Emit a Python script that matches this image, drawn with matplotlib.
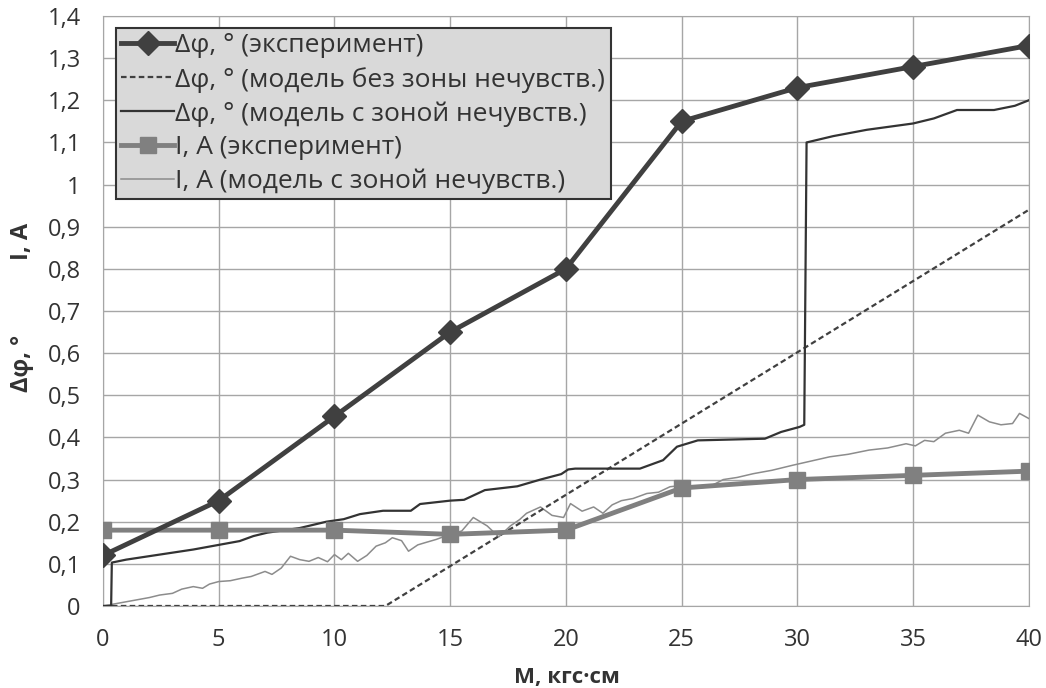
import matplotlib
matplotlib.use("Agg")
import matplotlib.pyplot as plt

# experiment points
m_exp = [0, 5, 10, 15, 20, 25, 30, 35, 40]
phi_exp = [0.12, 0.25, 0.45, 0.65, 0.80, 1.15, 1.23, 1.28, 1.33]
i_exp = [0.18, 0.18, 0.18, 0.17, 0.18, 0.28, 0.30, 0.31, 0.32]

# model without dead zone
m_nodz = [0, 12.2, 40]
phi_nodz = [0, 0, 0.94]

# model with dead zone (phi)
m_dz = [0, 0.35, 0.38, 1.0, 2.45, 3.9, 5.0, 5.9, 6.5, 7.1, 8.5, 9.65, 10.4, 11.1,
        12.1, 13.3, 13.7, 15.0, 15.6, 16.5, 17.9, 18.9, 19.8, 20.1, 20.4, 23.2,
        24.2, 24.8, 25.7, 28.6, 29.3, 30.1, 30.3, 30.4, 31.55, 33.0, 35.0, 35.9,
        36.9, 38.5, 39.4, 40.0]
phi_dz = [0, 0, 0.103, 0.11, 0.122, 0.134, 0.145, 0.154, 0.166, 0.174, 0.185, 0.2,
          0.206, 0.218, 0.226, 0.226, 0.242, 0.25, 0.252, 0.275, 0.284, 0.30, 0.313,
          0.324, 0.326, 0.326, 0.346, 0.378, 0.393, 0.397, 0.413, 0.425, 0.43, 1.10,
          1.115, 1.13, 1.145, 1.157, 1.177, 1.177, 1.187, 1.20]

# model with dead zone (current), read point by point
m_im = [0, 0.5, 1.0, 1.5, 2.0, 2.45, 3.0, 3.4, 3.9, 4.3, 4.6, 5.0, 5.5, 6.0, 6.4,
        7.0, 7.3, 7.7, 8.1, 8.5, 8.9, 9.3, 9.7, 10.0, 10.3, 10.6, 11.0, 11.4, 11.8,
        12.2, 12.5, 12.9, 13.2, 13.6, 13.9, 14.4, 15.0, 15.5, 16.0, 16.6, 17.1,
        17.6, 18.0, 18.3, 18.9, 19.4, 19.9, 20.2, 20.7, 21.2, 21.6, 22.0, 22.4,
        22.9, 23.5, 24.0, 24.5, 25.2, 25.7, 26.2, 26.8, 27.4, 28.1, 28.9, 29.8,
        30.6, 31.4, 32.2, 33.1, 33.9, 34.7, 35.1, 35.5, 35.9, 36.4, 37.0, 37.4,
        37.8, 38.3, 38.8, 39.3, 39.6, 40.0]
i_im = [0, 0.005, 0.01, 0.015, 0.02, 0.026, 0.03, 0.04, 0.046, 0.042, 0.052, 0.058,
        0.06, 0.066, 0.07, 0.082, 0.075, 0.09, 0.118, 0.11, 0.106, 0.115, 0.105,
        0.122, 0.11, 0.125, 0.106, 0.12, 0.142, 0.15, 0.162, 0.155, 0.13, 0.145,
        0.15, 0.158, 0.17, 0.178, 0.21, 0.19, 0.164, 0.19, 0.205, 0.22, 0.235,
        0.215, 0.21, 0.243, 0.225, 0.235, 0.22, 0.24, 0.25, 0.255, 0.267, 0.27,
        0.283, 0.287, 0.28, 0.283, 0.3, 0.305, 0.314, 0.322, 0.334, 0.344, 0.354,
        0.36, 0.37, 0.375, 0.385, 0.38, 0.393, 0.39, 0.41, 0.417, 0.41, 0.453,
        0.437, 0.43, 0.433, 0.457, 0.445]

labels = ["Δφ, ° (эксперимент)",
          "Δφ, ° (модель без зоны нечувств.)",
          "Δφ, ° (модель с зоной нечувств.)",
          "I, A (эксперимент)",
          "I, A (модель с зоной нечувств.)"]

DARK, MID, GRID = "#404040", "#808080", "#a6a6a6"
FONT = ["Open Sans", "DejaVu Sans"]

fig = plt.figure(figsize=(10.46, 6.88), dpi=100)
ax = fig.add_axes([0.0985, 0.1192, 0.885, 0.8575])

ax.plot(m_exp, phi_exp, color=DARK, lw=3.5, marker="D", ms=12, zorder=6, label=labels[0])
ax.plot(m_nodz, phi_nodz, color=DARK, lw=1.6, ls=(0, (2.5, 1.5)), zorder=4, label=labels[1])
ax.plot(m_dz, phi_dz, color="#333333", lw=1.6, zorder=4, label=labels[2])
ax.plot(m_exp, i_exp, color=MID, lw=3.5, marker="s", ms=11, zorder=5, label=labels[3])
ax.plot(m_im, i_im, color="#8c8c8c", lw=1.1, zorder=3, label=labels[4])

ax.set_xlim(0, 40)
ax.set_ylim(0, 1.4)
ax.set_xticks(range(0, 41, 5))
ax.set_yticks([i / 10 for i in range(15)])
ax.set_yticklabels(["0", "0,1", "0,2", "0,3", "0,4", "0,5", "0,6", "0,7", "0,8", "0,9",
                    "1", "1,1", "1,2", "1,3", "1,4"])
ax.grid(True, color=GRID, lw=1)
ax.set_axisbelow(True)
for s in ax.spines.values():
    s.set_color(GRID)
ax.tick_params(length=0, labelsize=17, colors="#333333")
ax.tick_params(axis="x", pad=16)
ax.tick_params(axis="y", pad=16)
for t in ax.get_xticklabels() + ax.get_yticklabels():
    t.set_fontfamily(FONT)

# axis titles placed like the source
fig.text(567 / 1046, 1 - 683 / 688, "M, кгс·см", ha="center", va="baseline",
         fontsize=16, fontweight="bold", family=FONT, color="#333333")
fig.text(22 / 1046, 1 - 241 / 688, "I, A", rotation=90, ha="center", va="center",
         fontsize=17, fontweight="bold", family=FONT, color="#333333")
fig.text(22 / 1046, 1 - 363 / 688, "Δφ, °", rotation=90, ha="center", va="center",
         fontsize=17, fontweight="bold", family=FONT, color="#333333")

leg = ax.legend(loc="upper left", bbox_to_anchor=((116 - 103) / 926, (606 - 28) / 590),
                prop={"family": FONT, "size": 19}, frameon=True, fancybox=False,
                handlelength=2.0, handletextpad=0.05, labelspacing=0.32, borderpad=0.2,
                borderaxespad=0)
leg.get_frame().set_facecolor("#d9d9d9")
leg.get_frame().set_edgecolor("#333333")
leg.get_frame().set_linewidth(1.5)
leg.get_frame().set_alpha(1)
leg.set_zorder(10)
for t in leg.get_texts():
    t.set_color("#333333")

fig.savefig("out.png", dpi=100)
